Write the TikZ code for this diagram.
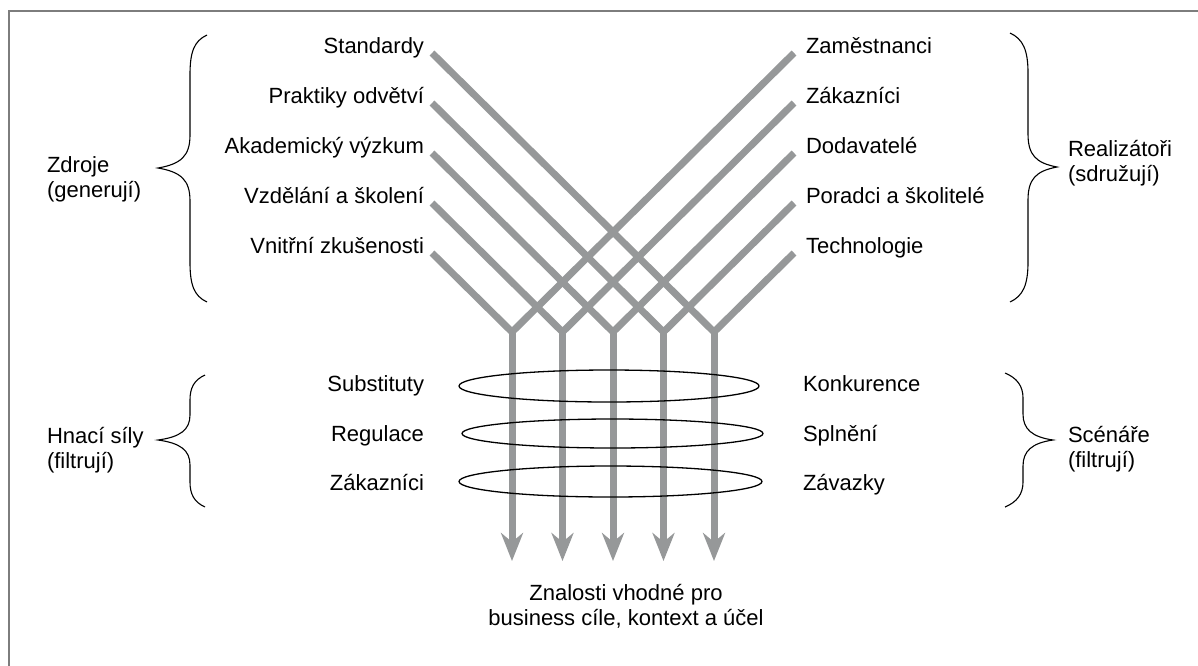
\documentclass[tikz,border=0pt]{standalone}
\usepackage{fontspec}
\setmainfont{Liberation Sans}
\usetikzlibrary{arrows.meta,shapes.geometric}

\definecolor{flowgray}{RGB}{150,152,153}
\definecolor{framegray}{RGB}{125,125,125}

\begin{document}
\begin{tikzpicture}[x=1pt,y=-1pt,
  lbl/.style={font=\fontsize{22}{25}\selectfont, inner sep=0pt, outer sep=0pt},
  grp/.style={lbl, align=left, anchor=base west},
  flow/.style={draw=flowgray, line width=7pt, line join=miter},
  outflow/.style={flow, -{Stealth[length=28pt,width=22pt,inset=9pt]}},
  ring/.style={ellipse, draw=black, line width=1.3pt,
               minimum width=300pt, minimum height=30pt, inner sep=0pt},
  brace/.style={draw=black, line width=1.1pt}]

\useasboundingbox (0,0) rectangle (1198,665);
\fill[white] (0,0) rectangle (1198,665);
% frame (open towards the right and bottom edges)
\draw[framegray, line width=2pt] (9,675) -- (9,11) -- (1210,11);

% knowledge sources (left) and enablers (right)
\foreach \t [count=\i from 0] in {Standardy,Praktiky odvětví,Akademický výzkum,Vzdělání a školení,Vnitřní zkušenosti}
  \node[lbl, anchor=base east] (L\i) at (424,53+50*\i) {\t};
\foreach \t [count=\i from 0] in {Zaměstnanci,Zákazníci,Dodavatelé,Poradci a školitelé,Technologie}
  \node[lbl, anchor=base west] (R\i) at (806,53+50*\i) {\t};

% junctions and arrow ends
\foreach \i in {0,...,4} {
  \coordinate (J\i) at (512+50.5*\i,332);
  \coordinate (T\i) at (512+50.5*\i,561);
}

% crossing streams: left source i and right source 4-i meet in junction 4-i
\foreach \i [evaluate=\i as \k using int(4-\i)] in {0,...,4}
  \draw[flow] ([xshift=8pt]L\i.base east) -- (J\k) -- ([xshift=-12pt]R\k.base west);

\foreach \i in {0,...,4}
  \draw[outflow] (J\i) -- (T\i);

% filters (rings around the five streams)
\node[ring, minimum height=32pt] (E1) at (609,386) {};
\node[ring, minimum width=301pt, minimum height=29pt] (E2) at (612.5,433.5) {};
\node[ring, minimum width=303pt, minimum height=31pt] (E3) at (610.5,481.5) {};

\node[lbl, anchor=base east] (F1) at (424,391) {Substituty};
\node[lbl, anchor=base east] (F2) at (424,441) {Regulace};
\node[lbl, anchor=base east] (F3) at (424,490) {Zákazníci};
\node[lbl, anchor=base west] (G1) at (803,391) {Konkurence};
\node[lbl, anchor=base west] (G2) at (803,441) {Splnění};
\node[lbl, anchor=base west] (G3) at (803,490) {Závazky};

% group captions (anchored at the baseline of their last line)
\node[grp] (src) at (47,197) {Zdroje\\(generují)};
\node[grp] (enb) at (1068,181) {Realizátoři\\(sdružují)};
\node[grp] (drv) at (47,468) {Hnací síly\\(filtrují)};
\node[grp] (scn) at (1068,467) {Scénáře\\(filtrují)};

% braces
\draw[brace] (207,35) .. controls (194,41) and (190,52) .. (190,75) -- (190,135)
  .. controls (190,156) and (181,164) .. (158,168)
  .. controls (181,172) and (190,180) .. (190,201) -- (190,262)
  .. controls (190,285) and (194,296) .. (207,302);
\draw[brace] (1010,33) .. controls (1023,39) and (1028,50) .. (1028,73) -- (1028,134)
  .. controls (1028,155) and (1036,163) .. (1057,167)
  .. controls (1036,171) and (1028,179) .. (1028,200) -- (1028,262)
  .. controls (1028,285) and (1023,296) .. (1010,302);
\draw[brace] (205,375) .. controls (194,380) and (190,388) .. (190,400) -- (190,415)
  .. controls (190,430) and (180,437) .. (158,440)
  .. controls (180,443) and (190,450) .. (190,465) -- (190,482)
  .. controls (190,494) and (194,502) .. (205,507);
\draw[brace] (1005,373) .. controls (1017,378) and (1023,386) .. (1023,398) -- (1023,414)
  .. controls (1023,429) and (1032,437) .. (1053,440)
  .. controls (1032,443) and (1023,451) .. (1023,466) -- (1023,482)
  .. controls (1023,494) and (1017,502) .. (1005,507);

% outcome
\node[lbl, align=center, anchor=base] (out) at (626,625)
  {Znalosti vhodné pro\\business cíle, kontext a účel};
\end{tikzpicture}
\end{document}
